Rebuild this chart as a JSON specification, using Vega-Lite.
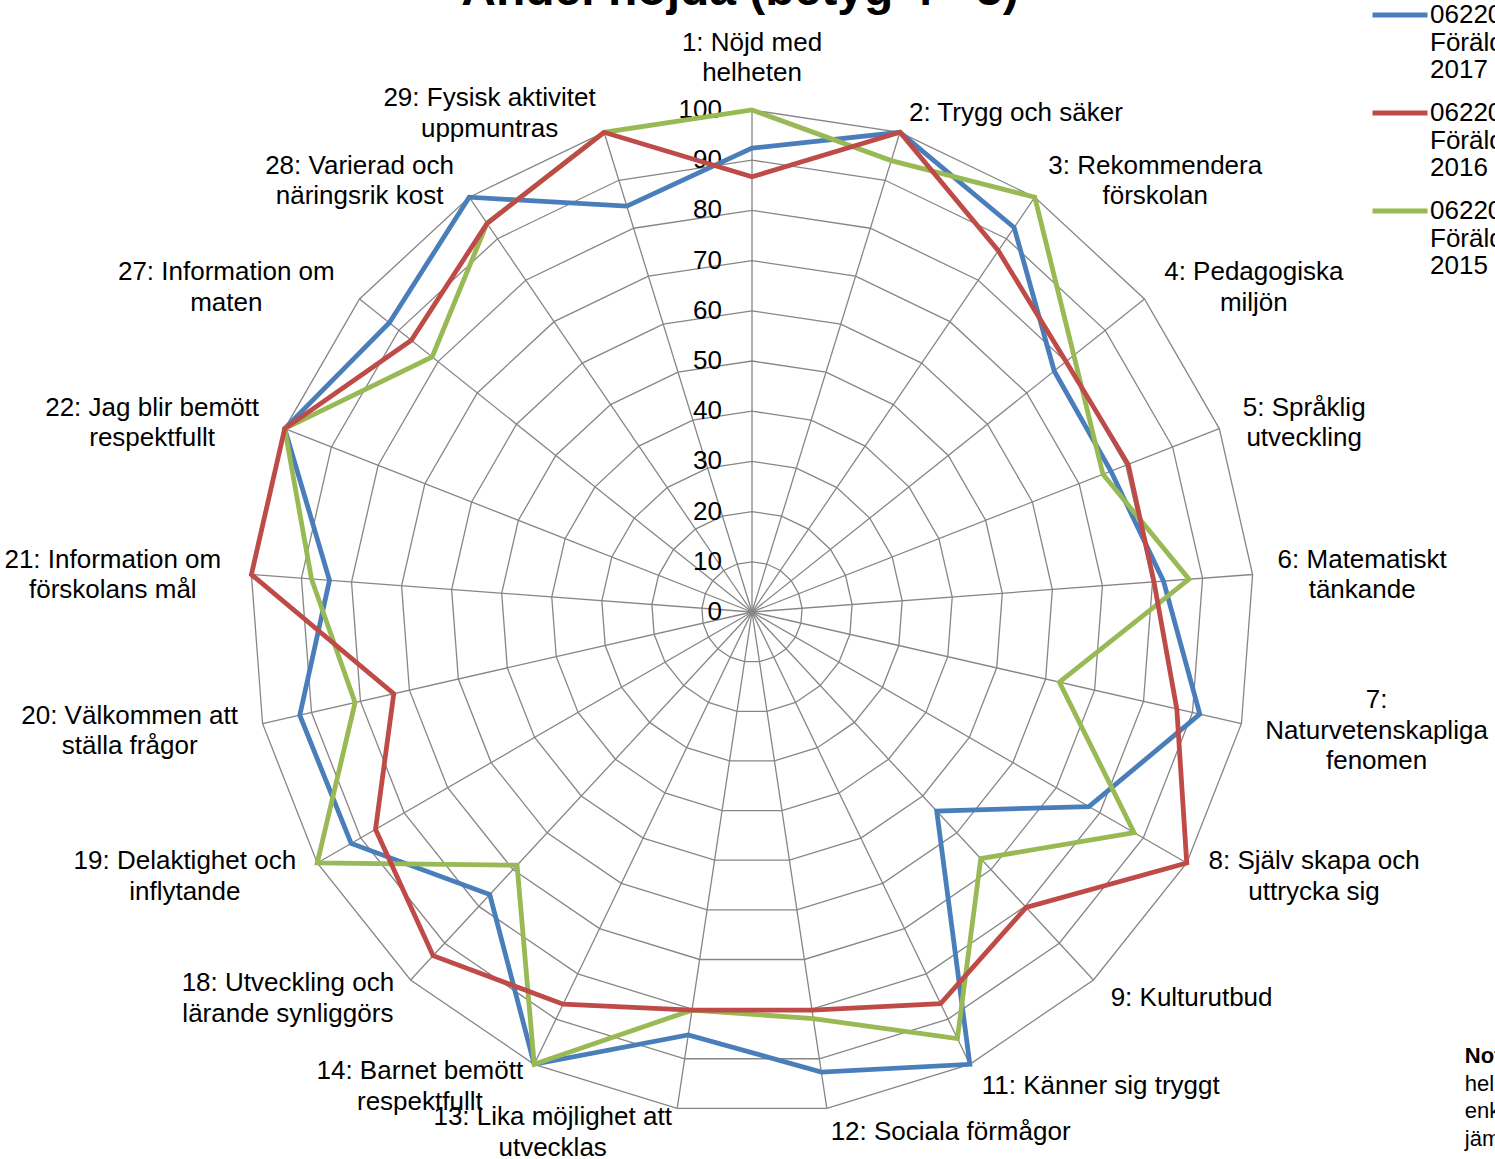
{
  "$schema": "https://vega.github.io/schema/vega-lite/v6.json",
  "autosize": {"type": "none"},
  "width": 1004,
  "height": 1004,
  "padding": {"left": 250, "top": 110, "right": 241, "bottom": 45},
  "background": "white",
  "title": {"text": "Andel nöjda (betyg 4 - 5)", "fontSize": 48, "font": "Liberation Sans", "fontWeight": "bold", "color": "black", "anchor": "middle", "frame": "group", "dx": -12, "offset": -68, "baseline": "alphabetic"},
  "config": {"view": {"stroke": null}, "font": "Liberation Sans", "style": {"guide-label": {"lineHeight": 27.5}}},
  "datasets": {
    "cats": [
      {"k": 0, "label": "1: Nöjd med|helheten"},
      {"k": 1, "label": "2: Trygg och säker"},
      {"k": 2, "label": "3: Rekommendera|förskolan"},
      {"k": 3, "label": "4: Pedagogiska|miljön"},
      {"k": 4, "label": "5: Språklig|utveckling"},
      {"k": 5, "label": "6: Matematiskt|tänkande"},
      {"k": 6, "label": "7:|Naturvetenskapliga|fenomen"},
      {"k": 7, "label": "8: Själv skapa och|uttrycka sig"},
      {"k": 8, "label": "9: Kulturutbud"},
      {"k": 9, "label": "11: Känner sig tryggt"},
      {"k": 10, "label": "12: Sociala förmågor"},
      {"k": 11, "label": "13: Lika möjlighet att|utvecklas"},
      {"k": 12, "label": "14: Barnet bemött|respektfullt"},
      {"k": 13, "label": "18: Utveckling och|lärande synliggörs"},
      {"k": 14, "label": "19: Delaktighet och|inflytande"},
      {"k": 15, "label": "20: Välkommen att|ställa frågor"},
      {"k": 16, "label": "21: Information om|förskolans mål"},
      {"k": 17, "label": "22: Jag blir bemött|respektfullt"},
      {"k": 18, "label": "27: Information om|maten"},
      {"k": 19, "label": "28: Varierad och|näringsrik kost"},
      {"k": 20, "label": "29: Fysisk aktivitet|uppmuntras"}
    ],
    "rings": [
      {"level": 10, "ks": [0,1,2,3,4,5,6,7,8,9,10,11,12,13,14,15,16,17,18,19,20]},
      {"level": 20, "ks": [0,1,2,3,4,5,6,7,8,9,10,11,12,13,14,15,16,17,18,19,20]},
      {"level": 30, "ks": [0,1,2,3,4,5,6,7,8,9,10,11,12,13,14,15,16,17,18,19,20]},
      {"level": 40, "ks": [0,1,2,3,4,5,6,7,8,9,10,11,12,13,14,15,16,17,18,19,20]},
      {"level": 50, "ks": [0,1,2,3,4,5,6,7,8,9,10,11,12,13,14,15,16,17,18,19,20]},
      {"level": 60, "ks": [0,1,2,3,4,5,6,7,8,9,10,11,12,13,14,15,16,17,18,19,20]},
      {"level": 70, "ks": [0,1,2,3,4,5,6,7,8,9,10,11,12,13,14,15,16,17,18,19,20]},
      {"level": 80, "ks": [0,1,2,3,4,5,6,7,8,9,10,11,12,13,14,15,16,17,18,19,20]},
      {"level": 90, "ks": [0,1,2,3,4,5,6,7,8,9,10,11,12,13,14,15,16,17,18,19,20]},
      {"level": 100, "ks": [0,1,2,3,4,5,6,7,8,9,10,11,12,13,14,15,16,17,18,19,20]}
    ],
    "ticks": [{"level": 0},{"level": 10},{"level": 20},{"level": 30},{"level": 40},{"level": 50},{"level": 60},{"level": 70},{"level": 80},{"level": 90},{"level": 100}],
    "vals": [
      {"series": "06220 Förskolan|Föräldraenkät|2017", "k": 0, "value": 92.4},
      {"series": "06220 Förskolan|Föräldraenkät|2017", "k": 1, "value": 100},
      {"series": "06220 Förskolan|Föräldraenkät|2017", "k": 2, "value": 92.7},
      {"series": "06220 Förskolan|Föräldraenkät|2017", "k": 3, "value": 77},
      {"series": "06220 Förskolan|Föräldraenkät|2017", "k": 4, "value": 76.8},
      {"series": "06220 Förskolan|Föräldraenkät|2017", "k": 5, "value": 82.2},
      {"series": "06220 Förskolan|Föräldraenkät|2017", "k": 6, "value": 91.5},
      {"series": "06220 Förskolan|Föräldraenkät|2017", "k": 7, "value": 77.5},
      {"series": "06220 Förskolan|Föräldraenkät|2017", "k": 8, "value": 54.1},
      {"series": "06220 Förskolan|Föräldraenkät|2017", "k": 9, "value": 100},
      {"series": "06220 Förskolan|Föräldraenkät|2017", "k": 10, "value": 92.7},
      {"series": "06220 Förskolan|Föräldraenkät|2017", "k": 11, "value": 85.2},
      {"series": "06220 Förskolan|Föräldraenkät|2017", "k": 12, "value": 100},
      {"series": "06220 Förskolan|Föräldraenkät|2017", "k": 13, "value": 76.8},
      {"series": "06220 Förskolan|Föräldraenkät|2017", "k": 14, "value": 92.2},
      {"series": "06220 Förskolan|Föräldraenkät|2017", "k": 15, "value": 92.4},
      {"series": "06220 Förskolan|Föräldraenkät|2017", "k": 16, "value": 84.4},
      {"series": "06220 Förskolan|Föräldraenkät|2017", "k": 17, "value": 100},
      {"series": "06220 Förskolan|Föräldraenkät|2017", "k": 18, "value": 92.4},
      {"series": "06220 Förskolan|Föräldraenkät|2017", "k": 19, "value": 100},
      {"series": "06220 Förskolan|Föräldraenkät|2017", "k": 20, "value": 84.6},
      {"series": "06220 Förskolan|Föräldraenkät|2015", "k": 0, "value": 100},
      {"series": "06220 Förskolan|Föräldraenkät|2015", "k": 1, "value": 94.1},
      {"series": "06220 Förskolan|Föräldraenkät|2015", "k": 2, "value": 100},
      {"series": "06220 Förskolan|Föräldraenkät|2015", "k": 3, "value": 82},
      {"series": "06220 Förskolan|Föräldraenkät|2015", "k": 4, "value": 75.1},
      {"series": "06220 Förskolan|Föräldraenkät|2015", "k": 5, "value": 87.3},
      {"series": "06220 Förskolan|Föräldraenkät|2015", "k": 6, "value": 62.8},
      {"series": "06220 Förskolan|Föräldraenkät|2015", "k": 7, "value": 87.9},
      {"series": "06220 Förskolan|Föräldraenkät|2015", "k": 8, "value": 67},
      {"series": "06220 Förskolan|Föräldraenkät|2015", "k": 9, "value": 94.3},
      {"series": "06220 Förskolan|Föräldraenkät|2015", "k": 10, "value": 81.9},
      {"series": "06220 Förskolan|Föräldraenkät|2015", "k": 11, "value": 80.2},
      {"series": "06220 Förskolan|Föräldraenkät|2015", "k": 12, "value": 100},
      {"series": "06220 Förskolan|Föräldraenkät|2015", "k": 13, "value": 68.8},
      {"series": "06220 Förskolan|Föräldraenkät|2015", "k": 14, "value": 100},
      {"series": "06220 Förskolan|Föräldraenkät|2015", "k": 15, "value": 81.1},
      {"series": "06220 Förskolan|Föräldraenkät|2015", "k": 16, "value": 88},
      {"series": "06220 Förskolan|Föräldraenkät|2015", "k": 17, "value": 100},
      {"series": "06220 Förskolan|Föräldraenkät|2015", "k": 18, "value": 81.5},
      {"series": "06220 Förskolan|Föräldraenkät|2015", "k": 19, "value": 93.7},
      {"series": "06220 Förskolan|Föräldraenkät|2015", "k": 20, "value": 100},
      {"series": "06220 Förskolan|Föräldraenkät|2016", "k": 0, "value": 86.7},
      {"series": "06220 Förskolan|Föräldraenkät|2016", "k": 1, "value": 100},
      {"series": "06220 Förskolan|Föräldraenkät|2016", "k": 2, "value": 87.1},
      {"series": "06220 Förskolan|Föräldraenkät|2016", "k": 3, "value": 80},
      {"series": "06220 Förskolan|Föräldraenkät|2016", "k": 4, "value": 80.5},
      {"series": "06220 Förskolan|Föräldraenkät|2016", "k": 5, "value": 80.3},
      {"series": "06220 Förskolan|Föräldraenkät|2016", "k": 6, "value": 86.8},
      {"series": "06220 Förskolan|Föräldraenkät|2016", "k": 7, "value": 100},
      {"series": "06220 Förskolan|Föräldraenkät|2016", "k": 8, "value": 80.3},
      {"series": "06220 Förskolan|Föräldraenkät|2016", "k": 9, "value": 86.6},
      {"series": "06220 Förskolan|Föräldraenkät|2016", "k": 10, "value": 80.2},
      {"series": "06220 Förskolan|Föräldraenkät|2016", "k": 11, "value": 80.2},
      {"series": "06220 Förskolan|Föräldraenkät|2016", "k": 12, "value": 86.7},
      {"series": "06220 Förskolan|Föräldraenkät|2016", "k": 13, "value": 93.4},
      {"series": "06220 Förskolan|Föräldraenkät|2016", "k": 14, "value": 86.6},
      {"series": "06220 Förskolan|Föräldraenkät|2016", "k": 15, "value": 73.2},
      {"series": "06220 Förskolan|Föräldraenkät|2016", "k": 16, "value": 100},
      {"series": "06220 Förskolan|Föräldraenkät|2016", "k": 17, "value": 100},
      {"series": "06220 Förskolan|Föräldraenkät|2016", "k": 18, "value": 86.8},
      {"series": "06220 Förskolan|Föräldraenkät|2016", "k": 19, "value": 93.7},
      {"series": "06220 Förskolan|Föräldraenkät|2016", "k": 20, "value": 100}
    ]
  },
  "layer": [
    {
      "data": {"name": "rings"},
      "transform": [
        {"flatten": ["ks"], "as": ["k"]},
        {"calculate": "datum.level*sin(datum.k*2*PI/21)", "as": "px"},
        {"calculate": "datum.level*cos(datum.k*2*PI/21)", "as": "py"}
      ],
      "mark": {"type": "line", "interpolate": "linear-closed", "stroke": "#868686", "strokeWidth": 1.3},
      "encoding": {
        "x": {"field": "px", "type": "quantitative", "scale": {"domain": [-100, 100], "nice": false, "zero": false}, "axis": null},
        "y": {"field": "py", "type": "quantitative", "scale": {"domain": [-100, 100], "nice": false, "zero": false}, "axis": null},
        "detail": {"field": "level", "type": "nominal"},
        "order": {"field": "k", "type": "quantitative"}
      }
    },
    {
      "data": {"name": "cats"},
      "transform": [
        {"calculate": "0", "as": "z"},
        {"calculate": "100*sin(datum.k*2*PI/21)", "as": "sx"},
        {"calculate": "100*cos(datum.k*2*PI/21)", "as": "sy"}
      ],
      "mark": {"type": "rule", "stroke": "#868686", "strokeWidth": 1.3},
      "encoding": {
        "x": {"field": "z", "type": "quantitative"},
        "y": {"field": "z", "type": "quantitative"},
        "x2": {"field": "sx"},
        "y2": {"field": "sy"}
      }
    },
    {
      "data": {"name": "ticks"},
      "transform": [{"calculate": "0", "as": "z"}],
      "mark": {"type": "text", "align": "right", "baseline": "middle", "dx": -30, "fontSize": 26, "font": "Liberation Sans", "color": "black"},
      "encoding": {
        "x": {"field": "z", "type": "quantitative"},
        "y": {"field": "level", "type": "quantitative"},
        "text": {"field": "level", "type": "quantitative"}
      }
    },
    {
      "data": {"name": "vals"},
      "transform": [
        {"calculate": "datum.value*sin(datum.k*2*PI/21)", "as": "px"},
        {"calculate": "datum.value*cos(datum.k*2*PI/21)", "as": "py"}
      ],
      "mark": {"type": "line", "interpolate": "linear-closed", "strokeWidth": 4.8, "strokeJoin": "miter"},
      "encoding": {
        "x": {"field": "px", "type": "quantitative"},
        "y": {"field": "py", "type": "quantitative"},
        "order": {"field": "k", "type": "quantitative"},
        "color": {
          "field": "series", "type": "nominal",
          "scale": {"domain": ["06220 Förskolan|Föräldraenkät|2017", "06220 Förskolan|Föräldraenkät|2016", "06220 Förskolan|Föräldraenkät|2015"], "range": ["#4A7EBB", "#BE4B48", "#98B954"]},
          "legend": {
            "orient": "none", "legendX": 1120, "legendY": -125, "title": null,
            "labelExpr": "split(datum.label, '|')",
            "labelFontSize": 26, "labelFont": "Liberation Sans", "labelColor": "black", "labelLimit": 0,
            "symbolType": "stroke", "symbolSize": 3025, "symbolStrokeWidth": 4.8,
            "labelOffset": 0, "rowPadding": 0, "padding": 0, "labelBaseline": "middle"
          }
        }
      }
    },
    {
      "data": {"name": "cats"},
      "transform": [
        {"calculate": "split(datum.label, '|')", "as": "lines"},
        {"flatten": ["lines"], "as": ["line"]},
        {"calculate": "0.556*length(datum.line) - 0.334*length(replace(datum.line, regexp('[^ijl]','g'), '')) - 0.278*length(replace(datum.line, regexp('[^ft :]','g'), '')) - 0.223*length(replace(datum.line, regexp('[^r]','g'), '')) + 0.277*length(replace(datum.line, regexp('[^mwMW]','g'), '')) + 0.12*length(replace(datum.line, regexp('[^A-LN-VX-Z]','g'), '')) - 0.056*length(replace(datum.line, regexp('[^kvyxzcs]','g'), ''))", "as": "w"},
        {"joinaggregate": [{"op": "max", "field": "w", "as": "bw"}], "groupby": ["k"]},
        {"filter": "datum.line == split(datum.label, '|')[0]"},
        {"calculate": "datum.k*2*PI/21", "as": "t"},
        {"calculate": "length(split(datum.label, '|'))", "as": "n"},
        {"calculate": "105*sin(datum.t) + (abs(sin(datum.t)) < 0.05 ? 0 : (sin(datum.t) > 0 ? 1 : -1) * datum.bw * 13 / 5.02)", "as": "lx"},
        {"calculate": "(abs(sin(datum.t)) < 0.05 ? 104.3 + datum.n * 3.04 : 104.4*cos(datum.t) - 0.45) + (datum.n - 1) * 3.04", "as": "ly"}
      ],
      "mark": {"type": "text", "align": "center", "baseline": "middle", "lineBreak": "|", "lineHeight": 30.5, "fontSize": 26, "font": "Liberation Sans", "color": "black"},
      "encoding": {
        "x": {"field": "lx", "type": "quantitative"},
        "y": {"field": "ly", "type": "quantitative"},
        "text": {"field": "label", "type": "nominal"}
      }
    },
    {
      "data": {"values": [{"note": "Notera:", "nx": 142.0, "ny": -88.4}]},
      "mark": {"type": "text", "align": "left", "baseline": "middle", "fontSize": 22, "fontWeight": "bold", "font": "Liberation Sans", "color": "black"},
      "encoding": {
        "x": {"field": "nx", "type": "quantitative"},
        "y": {"field": "ny", "type": "quantitative"},
        "text": {"field": "note", "type": "nominal"}
      }
    },
    {
      "data": {"values": [{"note": "helhetsbetyget visar|enkätens resultat i|jämförelse", "nx": 142.0, "ny": -94.0}]},
      "mark": {"type": "text", "align": "left", "baseline": "middle", "lineBreak": "|", "lineHeight": 27.5, "fontSize": 22, "font": "Liberation Sans", "color": "black"},
      "encoding": {
        "x": {"field": "nx", "type": "quantitative"},
        "y": {"field": "ny", "type": "quantitative"},
        "text": {"field": "note", "type": "nominal"}
      }
    }
  ]
}
